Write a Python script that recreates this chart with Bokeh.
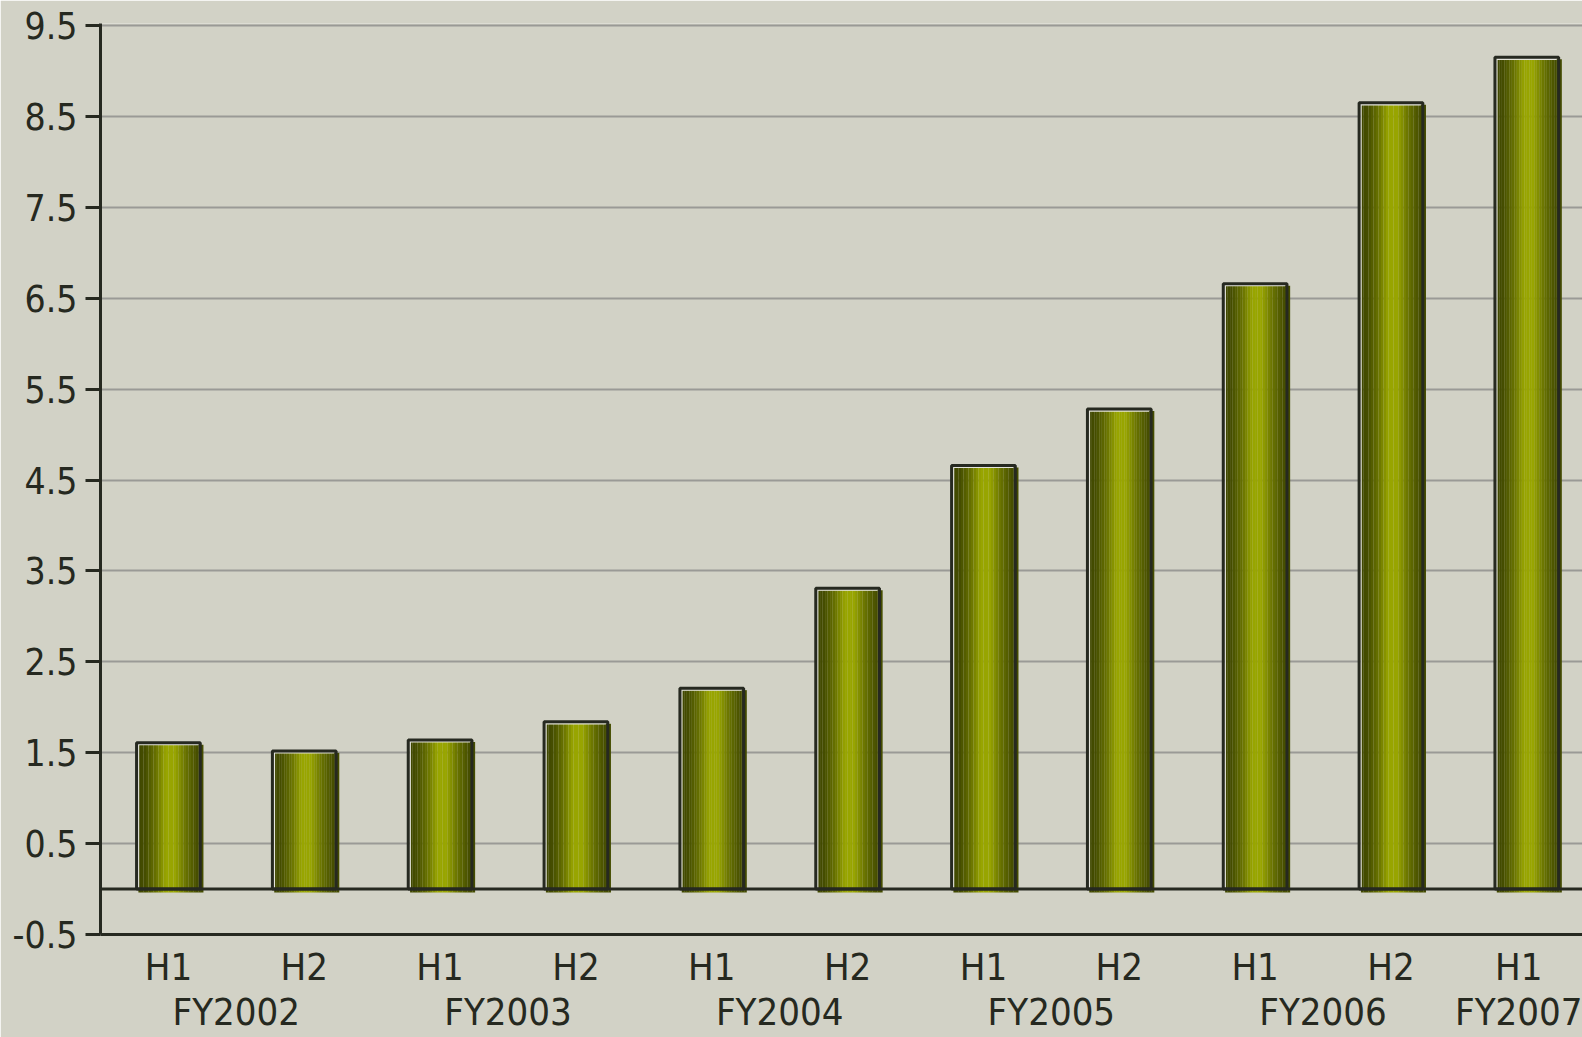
import numpy as np
from bokeh.plotting import figure
from bokeh.models import Range1d, FixedTicker, Span
from bokeh.embed import file_html
from bokeh.resources import INLINE

# ---- data ----
years = ["FY2002", "FY2002", "FY2003", "FY2003", "FY2004", "FY2004",
         "FY2005", "FY2005", "FY2006", "FY2006", "FY2007"]
halves = ["H1", "H2", "H1", "H2", "H1", "H2", "H1", "H2", "H1", "H2", "H1"]
values = [1.61, 1.52, 1.64, 1.84, 2.21, 3.31, 4.66, 5.28, 6.66, 8.65, 9.15]
y_ticks = [-0.5, 0.5, 1.5, 2.5, 3.5, 4.5, 5.5, 6.5, 7.5, 8.5, 9.5]
y_tick_labels = ["-0.5", "0.5", "1.5", "2.5", "3.5", "4.5", "5.5", "6.5", "7.5", "8.5", "9.5"]

# ---- layout constants ----
W, H = 1582, 1037
LEFT, TOP, BOTTOM = 100, 23, 103
X_END = 10.91
frame_w = W - LEFT
frame_h = H - TOP - BOTTOM
px_y = 10.0 / (frame_h - 2)          # 9.5 sits 2px below the frame top
Y_START, Y_END = -0.5, 9.5 + 2 * px_y
px_x = X_END / frame_w

BG = "#d2d2c6"
DARK = "#262920"
GRID = "#9a9a96"
FONT = "DejaVu Sans Condensed, Roboto, sans-serif"

n = len(values)
centers = np.arange(n) + 0.5
vals = np.array(values)

p = figure(width=W, height=H, output_backend="svg", toolbar_location=None,
           x_range=Range1d(0, X_END), y_range=Range1d(Y_START, Y_END),
           min_border_left=LEFT, min_border_top=TOP, min_border_bottom=BOTTOM,
           min_border_right=0)
p.background_fill_color = BG
p.border_fill_color = BG
p.outline_line_color = None

# grid
p.xgrid.visible = False
p.ygrid.ticker = FixedTicker(ticks=y_ticks)
p.ygrid.grid_line_color = GRID
p.ygrid.grid_line_width = 2

# y axis
ya = p.yaxis[0]
ya.ticker = FixedTicker(ticks=y_ticks)
ya.major_label_overrides = {t: s for t, s in zip(y_ticks, y_tick_labels)}
ya.axis_line_color = DARK
ya.axis_line_width = 3
ya.major_tick_line_color = DARK
ya.major_tick_line_width = 3
ya.major_tick_out = 15
ya.major_tick_in = 0
ya.minor_tick_line_color = None
ya.major_label_standoff = 8
ya.major_label_text_font = FONT
ya.major_label_text_font_size = "37px"
ya.major_label_text_color = DARK

# x axis: half-year labels on line 1, fiscal-year group labels on line 2
tick_labels = {}
for c, h in zip(centers, halves):
    tick_labels[float(c)] = h
for y in dict.fromkeys(years):
    idx = [i for i, yy in enumerate(years) if yy == y]
    gx = float(np.mean(centers[idx]))
    if gx in tick_labels:
        tick_labels[gx] = tick_labels[gx] + "\n" + y
    else:
        tick_labels[gx] = "\n" + y
xticks = sorted(tick_labels)

xa = p.xaxis[0]
xa.ticker = FixedTicker(ticks=xticks)
xa.major_label_overrides = tick_labels
xa.axis_line_color = DARK
xa.axis_line_width = 3
xa.major_tick_line_color = None
xa.minor_tick_line_color = None
xa.major_label_standoff = 4
xa.major_label_text_font = FONT
xa.major_label_text_font_size = "38px"
xa.major_label_text_line_height = 1.04
xa.major_label_text_color = DARK

# ---- bars: gradient strips ----
N = 26
fill_w = 0.478
bar_w = 0.469
shift_x = 2.5 * px_x
fill_top = vals - 2.0 * px_y
fill_bottom = -3.5 * px_y
dark = np.array([64, 72, 0])
light = np.array([152, 165, 0])
prof_t = [0.0, 0.1, 0.27, 0.42, 0.56, 0.73, 0.9, 1.0]
prof_s = [0.0, 0.06, 0.45, 1.0, 1.0, 0.45, 0.08, 0.04]
for k in range(N):
    t = (k + 0.5) / N
    s = float(np.interp(t, prof_t, prof_s))
    c = dark + (light - dark) * s
    col = "#%02x%02x%02x" % tuple(int(round(v)) for v in c)
    xs = centers - fill_w / 2 + shift_x + (k + 0.5) * fill_w / N
    p.vbar(x=xs, top=fill_top, bottom=fill_bottom, width=fill_w / N * 1.05,
           fill_color=col, line_color=None)

# inner highlight on left and top edges
hx, hy = [], []
for c, v in zip(centers, vals):
    lx = c - bar_w / 2 + 2.0 * px_x
    rx = c + bar_w / 2 - 2.0 * px_x
    ty = v - 2.0 * px_y
    hx.append([lx, lx, rx])
    hy.append([0, ty, ty])
p.multi_line(xs=hx, ys=hy, line_color="#e4e4dc", line_width=1.3)

# dark outline
p.vbar(x=centers, top=vals, bottom=0, width=bar_w, fill_color=None,
       line_color=DARK, line_width=3)

# zero line
p.add_layout(Span(location=0, dimension="width", line_color=DARK, line_width=3))

open("out.html", "w").write(file_html(p, INLINE))
